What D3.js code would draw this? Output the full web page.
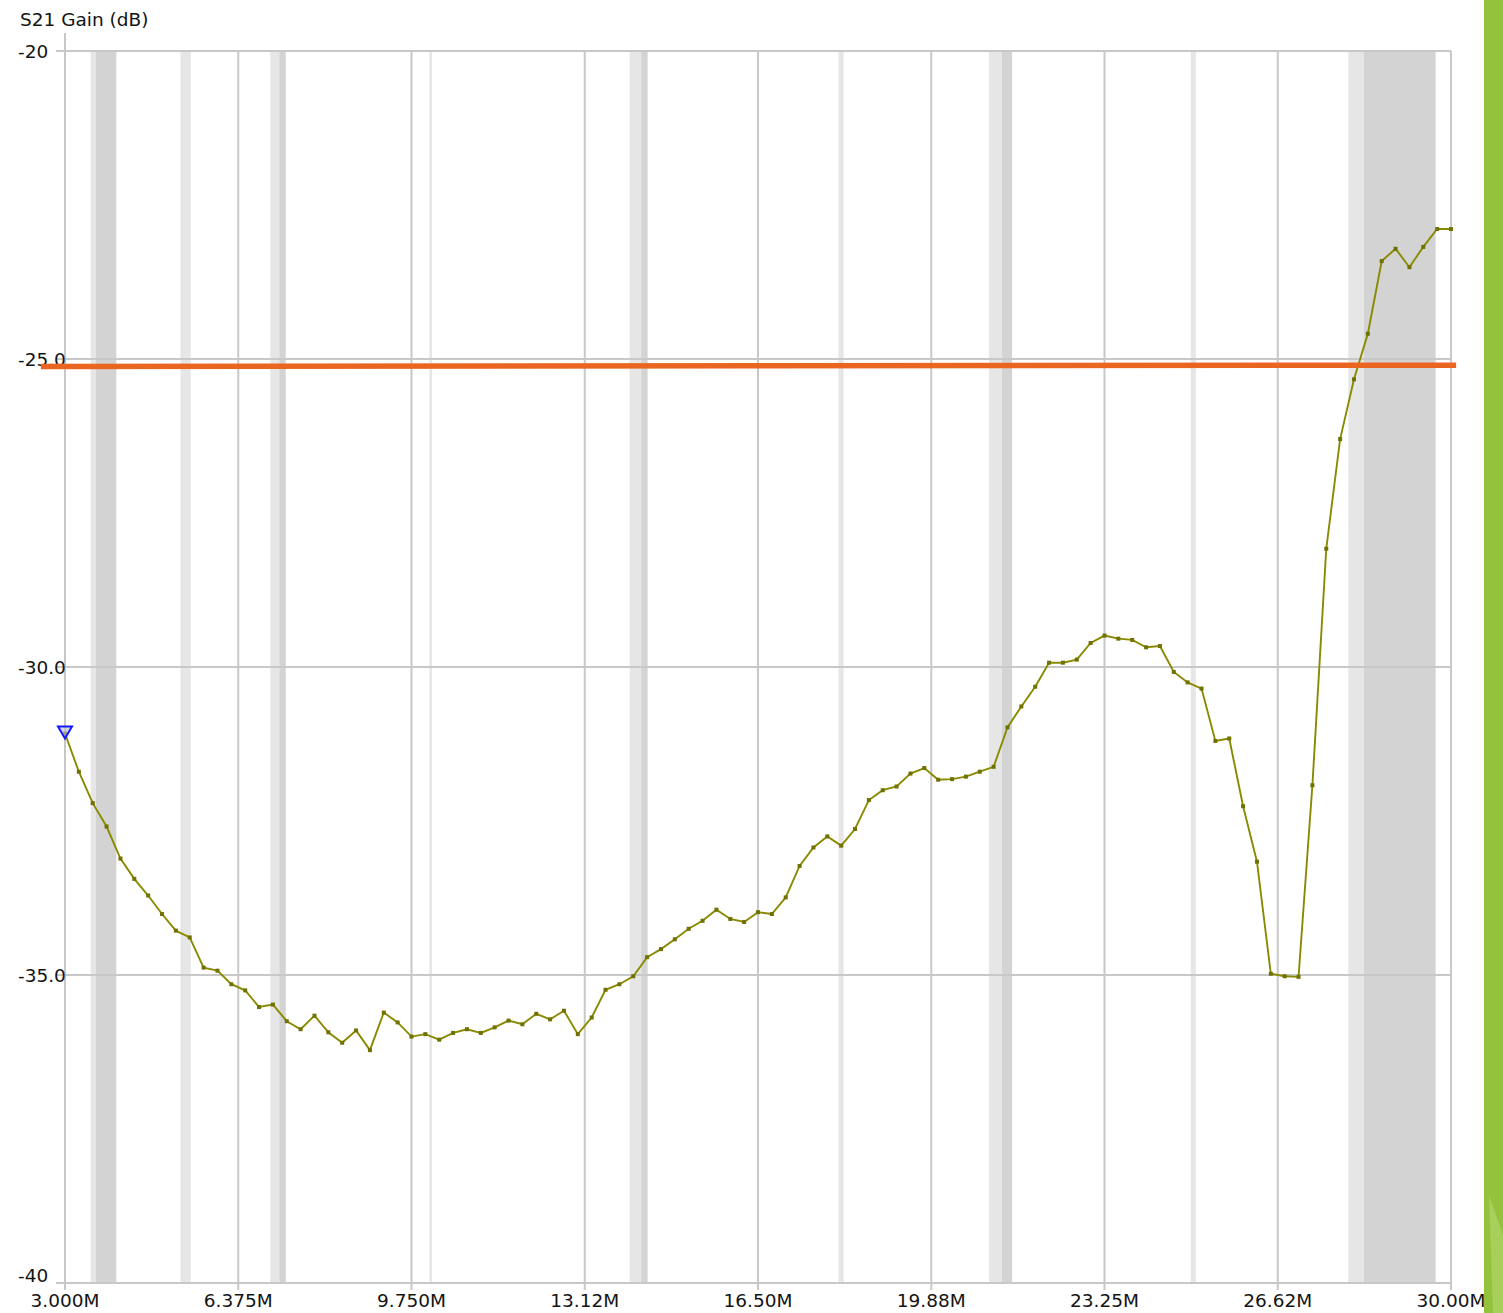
<!DOCTYPE html>
<html>
<head>
  <meta charset="UTF-8">
  <style>
    body { margin: 0; background: #fff; }
    svg { display: block; font-family: "DejaVu Sans", Verdana, sans-serif; }
  </style>
</head>
<body>
<svg></svg>
<script src="https://d3js.org/d3.v7.min.js"></script>

<script>

// sweep frequencies (MHz) and measured S21 gain (dB)
const freqMHz = [
  3.00, 3.27, 3.54, 3.81, 4.08, 4.35, 4.62, 4.89, 5.16, 5.43,
  5.70, 5.97, 6.24, 6.51, 6.78, 7.05, 7.32, 7.59, 7.86, 8.13,
  8.40, 8.67, 8.94, 9.21, 9.48, 9.75, 10.02, 10.29, 10.56, 10.83,
  11.10, 11.37, 11.64, 11.91, 12.18, 12.45, 12.72, 12.99, 13.26, 13.53,
  13.80, 14.07, 14.34, 14.61, 14.88, 15.15, 15.42, 15.69, 15.96, 16.23,
  16.50, 16.77, 17.04, 17.31, 17.58, 17.85, 18.12, 18.39, 18.66, 18.93,
  19.20, 19.47, 19.74, 20.01, 20.28, 20.55, 20.82, 21.09, 21.36, 21.63,
  21.90, 22.17, 22.44, 22.71, 22.98, 23.25, 23.52, 23.79, 24.06, 24.33,
  24.60, 24.87, 25.14, 25.41, 25.68, 25.95, 26.22, 26.49, 26.76, 27.03,
  27.30, 27.57, 27.84, 28.11, 28.38, 28.65, 28.92, 29.19, 29.46, 29.73,
  30.00
];

const gainDb = [
  -31.08, -31.70, -32.21, -32.59, -33.11, -33.44, -33.71, -34.01, -34.28, -34.39,
  -34.88, -34.93, -35.15, -35.25, -35.52, -35.48, -35.75, -35.88, -35.66, -35.93,
  -36.10, -35.90, -36.22, -35.61, -35.77, -36.00, -35.96, -36.05, -35.94, -35.88,
  -35.94, -35.85, -35.74, -35.80, -35.63, -35.72, -35.58, -35.96, -35.69, -35.24,
  -35.15, -35.02, -34.71, -34.58, -34.42, -34.25, -34.12, -33.94, -34.09, -34.14,
  -33.98, -34.01, -33.74, -33.23, -32.93, -32.75, -32.90, -32.63, -32.16, -32.00,
  -31.94, -31.73, -31.64, -31.83, -31.82, -31.78, -31.70, -31.62, -30.98, -30.64,
  -30.32, -29.93, -29.93, -29.88, -29.61, -29.49, -29.54, -29.56, -29.68, -29.66,
  -30.08, -30.25, -30.35, -31.20, -31.16, -32.26, -33.16, -34.98, -35.02, -35.03,
  -31.92, -28.08, -26.30, -25.33, -24.59, -23.41, -23.21, -23.51, -23.18, -22.89,
  -22.89
];

// ham band segments: [start MHz, end MHz, kind]
const bandStart = [3.5, 3.6, 5.25, 7.0, 7.175, 10.1, 14.0, 14.225, 18.068, 21.0, 21.25, 24.93, 28.0, 28.3];
const bandEnd   = [3.6, 4.0, 5.45, 7.175, 7.3, 10.15, 14.225, 14.35, 18.168, 21.25, 21.45, 25.03, 28.3, 29.7];
const bandKind  = ["cw", "phone", "cw", "cw", "phone", "cw", "cw", "phone", "cw", "cw", "phone", "cw", "cw", "phone"];

const xTicks = [3, 6.375, 9.75, 13.125, 16.5, 19.875, 23.25, 26.625, 30];
const xTickLabels = ["3.000M", "6.375M", "9.750M", "13.12M", "16.50M", "19.88M", "23.25M", "26.62M", "30.00M"];
const yTicks = [-20, -25, -30, -35, -40];
const yTickLabels = ["-20", "-25.0", "-30.0", "-35.0", "-40"];

// hand drawn limit line (start/end freq, start/end gain)
const limitFreq = [2.53, 30.1];
const limitGain = [-25.12, -25.10];

let width = 1503, height = 1313;

let svg = d3.select("svg")
  .attr("width", width)
  .attr("height", height)
  .attr("viewBox", "0 0 " + width + " " + height);

let x = d3.scaleLinear().domain([3, 30]).range([65, 1451]);
let y = d3.scaleLinear().domain([-40, -20]).range([1283, 51]);

let points = freqMHz.map((f, i) => ({ f: f, g: gainDb[i] }));
let bands = bandStart.map((s, i) => ({ s: s, e: bandEnd[i], kind: bandKind[i] }));

// band shading
svg.append("g")
  .selectAll("rect")
  .data(bands)
  .enter()
  .append("rect")
  .attr("x", d => x(d.s))
  .attr("width", d => x(d.e) - x(d.s))
  .attr("y", y(-20))
  .attr("height", y(-40) - y(-20))
  .attr("fill", d => d.kind == "phone" ? "#d3d3d3" : "#e6e6e6");

// grid
let grid = svg.append("g").attr("stroke", "#c8c8c8").attr("stroke-width", 2);

grid.selectAll(".hg")
  .data(yTicks)
  .enter()
  .append("line")
  .attr("x1", x(3) - 9)
  .attr("x2", x(30))
  .attr("y1", d => y(d))
  .attr("y2", d => y(d));

grid.selectAll(".vg")
  .data(xTicks)
  .enter()
  .append("line")
  .attr("x1", d => x(d))
  .attr("x2", d => x(d))
  .attr("y1", (d, i) => i == 0 ? y(-20) - 18 : y(-20))
  .attr("y2", y(-40) + 7);

// axis text
let txt = svg.append("g").attr("fill", "#141414").attr("font-size", "18.5px");

txt.append("text")
  .attr("x", 20)
  .attr("y", 26)
  .text("S21 Gain (dB)");

txt.selectAll(".yl")
  .data(yTicks)
  .enter()
  .append("text")
  .attr("x", 18)
  .attr("y", d => Math.min(y(d) + 6.5, y(-40) - 1))
  .text((d, i) => yTickLabels[i]);

txt.selectAll(".xl")
  .data(xTicks)
  .enter()
  .append("text")
  .attr("x", d => x(d))
  .attr("y", 1307)
  .attr("text-anchor", "middle")
  .text((d, i) => xTickLabels[i]);

// trace
svg.append("path")
  .datum(points)
  .attr("fill", "none")
  .attr("stroke", "#8a8a00")
  .attr("stroke-width", 1.9)
  .attr("d", d3.line().x(d => x(d.f)).y(d => y(d.g)));

svg.append("g")
  .selectAll("rect")
  .data(points)
  .enter()
  .append("rect")
  .attr("x", d => x(d.f) - 2)
  .attr("y", d => y(d.g) - 2)
  .attr("width", 4)
  .attr("height", 4)
  .attr("fill", "#717100");

// marker on first point
let m = points[0];
svg.append("path")
  .attr("d", "M" + (x(m.f) - 7) + "," + (y(m.g) - 7) +
             "L" + (x(m.f) + 7) + "," + (y(m.g) - 7) +
             "L" + x(m.f) + "," + (y(m.g) + 5) + "Z")
  .attr("fill", "rgba(190,190,215,0.6)")
  .attr("stroke", "#1818ff")
  .attr("stroke-width", 2);

// orange limit line
svg.append("line")
  .attr("x1", x(limitFreq[0]))
  .attr("x2", x(limitFreq[1]))
  .attr("y1", y(limitGain[0]))
  .attr("y2", y(limitGain[1]))
  .attr("stroke", "#ea6620")
  .attr("stroke-width", 5.5);

// slide edge
svg.append("rect")
  .attr("x", 1484)
  .attr("y", 0)
  .attr("width", width - 1484)
  .attr("height", height)
  .attr("fill", "#95c23d");

svg.append("path")
  .attr("d", "M1489,1195L1503,1235L1503,1313L1493,1313Z")
  .attr("fill", "#a8cf5a");

</script>

</body>
</html>
